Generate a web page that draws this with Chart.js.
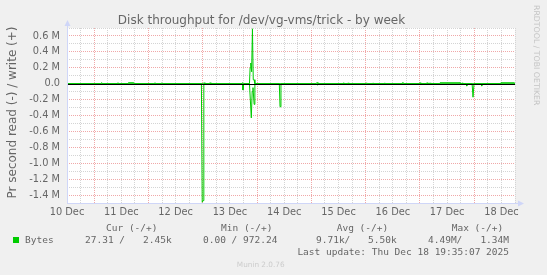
<!DOCTYPE html>
<html>
<head>
<meta charset="utf-8">
<script src="https://cdn.jsdelivr.net/npm/chart.js@4.4.1/dist/chart.umd.min.js"></script>
<style>
  html, body { margin: 0; padding: 0; background: #f0f0f0; }
  #wrap { width: 547px; height: 275px; }
</style>
</head>
<body>
<div id="wrap"><canvas id="diskChart" width="547" height="275"></canvas></div>
<script>
// x = days since 10 Dec 00:00, y = bytes per second in millions (read plotted negative)
const dayLabels = ["10 Dec", "11 Dec", "12 Dec", "13 Dec", "14 Dec", "15 Dec", "16 Dec", "17 Dec", "18 Dec"];
const labelDays = [0.5, 1.5, 2.5, 3.5, 4.5, 5.5, 6.5, 7.5, 8.5];

const yLabelValues = [0.6, 0.4, 0.2, 0, -0.2, -0.4, -0.6, -0.8, -1.0, -1.2, -1.4];
const yLabels = ["0.6 M", "0.4 M", "0.2 M", "0.0", "-0.2 M", "-0.4 M", "-0.6 M", "-0.8 M", "-1.0 M", "-1.2 M", "-1.4 M"];

const readDays = [0.5, 2.975, 2.99, 3.005, 3.02, 3.73, 3.741, 3.755, 3.86, 3.894, 3.91, 3.925, 3.946, 3.96,
  4.41, 4.423, 4.44, 5.09, 5.104, 5.12, 7.85, 7.861, 7.875, 7.96, 7.977, 7.995, 8.125, 8.137, 8.15, 8.75];
const readValues = [0, 0, -1.49, -1.47, 0, 0, -0.08, 0, 0, -0.43, -0.1, -0.05, -0.26, 0,
  0, -0.29, 0, 0, -0.015, 0, 0, -0.03, 0, 0, -0.17, 0, 0, -0.03, 0, 0];

const writeDays = [0.5, 1.12, 1.139, 1.16, 1.42, 1.439, 1.46, 1.62, 1.63, 1.73, 1.74, 2.10, 2.121, 2.14,
  2.23, 2.244, 2.26, 3.01, 3.023, 3.04, 3.12, 3.134, 3.15, 3.72, 3.73, 3.75,
  3.86, 3.872, 3.885, 3.90, 3.915, 3.93, 3.945, 3.96, 5.09, 5.104, 5.12, 5.57, 5.583, 5.6,
  5.66, 5.675, 5.69, 6.005, 6.019, 6.035, 6.12, 6.135, 6.15, 6.34, 6.356, 6.37, 6.66, 6.67, 6.70, 6.71,
  6.99, 7.001, 7.015, 7.115, 7.13, 7.145, 7.17, 7.186, 7.2, 7.36, 7.37, 7.74, 7.75, 7.76, 7.774, 7.79,
  8.48, 8.49, 8.74, 8.75];
const writeValues = [0, 0, 0.012, 0, 0, 0.01, 0, 0, 0.012, 0.012, 0, 0, 0.01, 0,
  0, 0.01, 0, 0, 0.012, 0, 0, 0.012, 0, 0, 0.012, 0,
  0, 0.2, 0.26, 0.15, 0.69, 0.05, 0.05, 0, 0, 0.015, 0, 0, 0.01, 0,
  0, 0.01, 0, 0, 0.01, 0, 0, 0.01, 0, 0, 0.01, 0, 0, 0.01, 0.01, 0,
  0, 0.012, 0, 0, 0.012, 0, 0, 0.01, 0, 0, 0.012, 0.012, 0, 0, 0.01, 0,
  0, 0.012, 0.012, 0];

const GREEN = "#00cc00";
const FONT_COLOR = "#666666";
const GRID = "#d4d4d4";
const MGRID = "#f0a8a8";
const AXIS = "#cfd6f8";

function points(xs, ys) {
  return xs.map((x, i) => ({ x: x, y: ys[i] }));
}

// grid every 6 hours / every 0.1 M
const xTickValues = [];
for (let v = 0.5; v <= 8.75; v += 0.25) xTickValues.push(v);
const yTickValues = [];
for (let k = -15; k <= 7; k++) yTickValues.push(k / 10);

// rrdtool-style extras: canvas colours, zero rule, axis arrows and text blocks
const rrdDecor = {
  id: "rrdDecor",
  beforeDraw(chart) {
    const { ctx, chartArea: a } = chart;
    ctx.save();
    ctx.fillStyle = "#f0f0f0";
    ctx.fillRect(0, 0, chart.width, chart.height);
    ctx.fillStyle = "#ffffff";
    ctx.fillRect(a.left, a.top, a.right - a.left, a.bottom - a.top);
    ctx.restore();
  },
  afterDatasetsDraw(chart) {
    const { ctx, chartArea: a } = chart;
    const y0 = Math.round(chart.scales.y.getPixelForValue(0)) + 0.5;
    ctx.save();
    ctx.strokeStyle = "#000000";
    ctx.lineWidth = 1;
    ctx.beginPath();
    ctx.moveTo(a.left, y0);
    ctx.lineTo(a.right, y0);
    ctx.stroke();

    // axes with arrows
    const xl = Math.round(a.left) + 0.5;
    const yb = Math.round(a.bottom) + 0.5;
    ctx.strokeStyle = AXIS;
    ctx.beginPath();
    ctx.moveTo(xl, yb);
    ctx.lineTo(xl, a.top - 4);
    ctx.moveTo(xl, yb);
    ctx.lineTo(a.right + 5, yb);
    ctx.stroke();
    ctx.fillStyle = AXIS;
    ctx.beginPath();
    ctx.moveTo(xl, a.top - 8);
    ctx.lineTo(xl - 3, a.top - 2);
    ctx.lineTo(xl + 3, a.top - 2);
    ctx.closePath();
    ctx.fill();
    ctx.beginPath();
    ctx.moveTo(a.right + 9, yb);
    ctx.lineTo(a.right + 3, yb - 3);
    ctx.lineTo(a.right + 3, yb + 3);
    ctx.closePath();
    ctx.fill();
    ctx.restore();
  },
  afterDraw(chart) {
    const ctx = chart.ctx;
    ctx.save();
    ctx.fillStyle = FONT_COLOR;
    ctx.textBaseline = "alphabetic";

    ctx.font = '12px "DejaVu Sans"';
    ctx.textAlign = "center";
    ctx.fillText("Disk throughput for /dev/vg-vms/trick - by week", 261.5, 23.5);

    ctx.save();
    ctx.translate(15.5, 112.5);
    ctx.rotate(-Math.PI / 2);
    ctx.fillText("Pr second read (-) / write (+)", 0, 0);
    ctx.restore();

    ctx.save();
    ctx.fillStyle = "#c4c4c4";
    ctx.font = '7.8px "DejaVu Sans"';
    ctx.textAlign = "left";
    ctx.translate(533.5, 5);
    ctx.rotate(Math.PI / 2);
    ctx.fillText("RRDTOOL / TOBI OETIKER", 0, 0);
    ctx.restore();

    // legend block
    ctx.textAlign = "left";
    ctx.font = '9.5px "DejaVu Sans Mono"';
    ctx.fillText("Cur (-/+)", 106, 231);
    ctx.fillText("Min (-/+)", 221, 231);
    ctx.fillText("Avg (-/+)", 336.7, 231);
    ctx.fillText("Max (-/+)", 451.7, 231);

    ctx.fillStyle = GREEN;
    ctx.fillRect(13, 237, 6, 6);
    ctx.fillStyle = FONT_COLOR;
    ctx.fillText("Bytes", 25, 243);
    ctx.fillText("27.31 /", 85, 243);
    ctx.fillText("2.45k", 143, 243);
    ctx.fillText("0.00 / 972.24", 203, 243);
    ctx.fillText("9.71k/", 316, 243);
    ctx.fillText("5.50k", 368, 243);
    ctx.fillText("4.49M/", 428, 243);
    ctx.textAlign = "right";
    ctx.fillText("1.34M", 509, 243);
    ctx.fillText("Last update: Thu Dec 18 19:35:07 2025", 509, 254.7);

    ctx.fillStyle = "#cccccc";
    ctx.font = '7.3px "DejaVu Sans"';
    ctx.textAlign = "center";
    ctx.fillText("Munin 2.0.76", 260.7, 267.3);
    ctx.restore();
  }
};

const ctx = document.getElementById("diskChart");
new Chart(ctx, {
  type: "line",
  data: {
    datasets: [
      {
        label: "read",
        data: points(readDays, readValues),
        borderColor: GREEN,
        borderWidth: 1,
        pointRadius: 0,
        tension: 0,
        fill: false
      },
      {
        label: "write",
        data: points(writeDays, writeValues),
        borderColor: GREEN,
        borderWidth: 1,
        pointRadius: 0,
        tension: 0,
        fill: false
      }
    ]
  },
  options: {
    responsive: false,
    animation: false,
    devicePixelRatio: 1,
    events: [],
    layout: { padding: { left: 0, top: 28, right: 32, bottom: 0 } },
    plugins: {
      legend: { display: false },
      tooltip: { enabled: false },
      title: { display: false }
    },
    scales: {
      x: {
        type: "linear",
        min: 0.5,
        max: 8.75,
        afterBuildTicks: s => { s.ticks = xTickValues.map(v => ({ value: v })); },
        afterFit: s => { s.height = 72; },
        ticks: {
          autoSkip: false,
          maxRotation: 0,
          padding: 4,
          color: FONT_COLOR,
          font: { family: "DejaVu Sans", size: 9.8 },
          callback: v => {
            const i = labelDays.indexOf(v);
            return i >= 0 ? dayLabels[i] : "";
          }
        },
        grid: {
          drawTicks: false,
          lineWidth: 1,
          color: c => (Number.isInteger(c.tick.value) ? MGRID : GRID)
        },
        border: { display: false, dash: [1, 1] }
      },
      y: {
        type: "linear",
        min: -1.5,
        max: 0.7,
        afterBuildTicks: s => { s.ticks = yTickValues.map(v => ({ value: v })); },
        afterFit: s => { s.width = 67; },
        ticks: {
          autoSkip: false,
          padding: 7,
          color: FONT_COLOR,
          font: { family: "DejaVu Sans", size: 9.8 },
          callback: v => {
            const i = yLabelValues.findIndex(l => Math.round(l * 10) === Math.round(v * 10));
            return i >= 0 ? yLabels[i] : "";
          }
        },
        grid: {
          drawTicks: false,
          lineWidth: 1,
          color: c => {
            const k = Math.round(c.tick.value * 10);
            if (k === 0) return "rgba(0,0,0,0)";
            return k % 2 === 0 ? MGRID : GRID;
          }
        },
        border: { display: false, dash: [1, 1] }
      }
    }
  },
  plugins: [rrdDecor]
});
</script>
</body>
</html>
